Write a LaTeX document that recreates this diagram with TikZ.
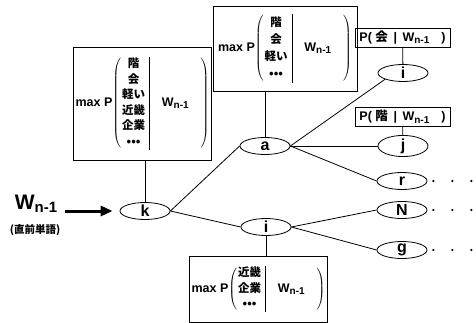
\documentclass[tikz,border=0pt]{standalone}
\usepackage{fontspec}
\usepackage{array}
\setmainfont{Liberation Sans}
\newfontfamily\jp{Noto Sans CJK JP}
\usetikzlibrary{positioning,arrows.meta,shapes.geometric,calc}

\setlength{\arrayrulewidth}{0.8pt}
% previous word with its subscript
\newcommand{\wsub}{W\raisebox{-0.35ex}{\fontsize{10}{10}\selectfont n-1}}
% max P ( candidates | W )
\newcommand{\maxp}[1]{max P$\left(\begin{tabular}{@{\hspace{1pt}}c@{\hspace{4pt}}|@{\hspace{12pt}}c@{\hspace{12pt}}}%
  \begin{tabular}{@{}>{\jp\fontsize{11.5}{15.5}\selectfont}c@{}}#1\end{tabular} & \wsub\end{tabular}\right)$}

\begin{document}
\begin{tikzpicture}[
  x=1pt, y=-1pt,
  every node/.style={font=\bfseries},
  word/.style={draw,ellipse,line width=0.8pt,minimum width=50pt,minimum height=17pt,inner sep=0pt,font=\bfseries\fontsize{16}{16}\selectfont},
  maxbox/.style={draw,line width=0.9pt,inner sep=2pt,font=\bfseries\fontsize{12.5}{15.5}\selectfont},
  probbox/.style={draw,line width=0.9pt,minimum width=95pt,minimum height=19pt,inner sep=1pt,font=\bfseries\fontsize{12.5}{12.5}\selectfont},
  link/.style={line width=0.8pt}
]
\useasboundingbox (0,0) rectangle (476,323);

% input word
\node (wlbl) at (36,204) {\fontsize{21}{21}\selectfont W\raisebox{-0.3ex}{\fontsize{15}{15}\selectfont n-1}};
\node (jlbl) at (35,230) {\jp\fontsize{10.5}{10.5}\selectfont (直前単語)};

% tree of letters
\node[word] (nk) at (145,211) {k};
\node[word] (na) at (265,146) {a};
\node[word] (nil) at (266,227) {i};
\node[word] (ni) at (403,73) {i};
\node[word] (nj) at (403,146) {j};
\node[word] (nr) at (402,181) {r};
\node[word] (nN) at (402,210) {N};
\node[word] (ng) at (402,250) {g};

% boxes with the maximum probabilities
\node[maxbox,minimum width=131pt,minimum height=113pt] (lbox) at (142.5,103.5)
  {\maxp{階\\会\\軽い\\近畿\\企業\\•••}};
\node[maxbox,minimum width=144pt,minimum height=85pt] (tbox) at (285,48.5)
  {\renewcommand{\arraystretch}{1.1}\maxp{階\\会\\軽い\\•••}};
\node[maxbox,minimum width=137pt,minimum height=66pt] (bbox) at (258.5,289)
  {\maxp{近畿\\企業\\•••}};
\node[probbox] (pbox1) at (402.5,37.5) {P( {\jp 会} \,|\, \wsub\hspace{12pt})};
\node[probbox] (pbox2) at (402.5,117) {P( {\jp 階} \,|\, \wsub\hspace{12pt})};

% input arrow
\draw[line width=3pt,-{Triangle[length=12pt,width=10pt]},shorten <=4pt,shorten >=7pt] (wlbl.east |- nk) -- (nk.west);

% branches
\draw[link] (nk.east) -- (na.west);
\draw[link] (nk.east) -- (nil.west);
\draw[link] (na.east) -- (ni.south west);
\draw[link] (na.east) -- (nj.west);
\draw[link] (na.east) -- (nr.west);
\draw[link] (nil.east) -- (nN.west);
\draw[link] (nil.east) -- (ng.west);

% boxes hang from the nodes
\draw[link] (nk) -- (nk |- lbox.south);
\draw[link] (na) -- (na |- tbox.south);
\draw[link] (nil) -- (nil |- bbox.north);
\draw[link] (ni) -- (pbox1);
\draw[link] (nj) -- (pbox2);

% continuing dots
\foreach \n in {nr,nN,ng}
  \foreach \dx in {6,25,44}
    \fill ($(\n.east)+(\dx,0)$) circle (1.2pt);
\end{tikzpicture}
\end{document}
